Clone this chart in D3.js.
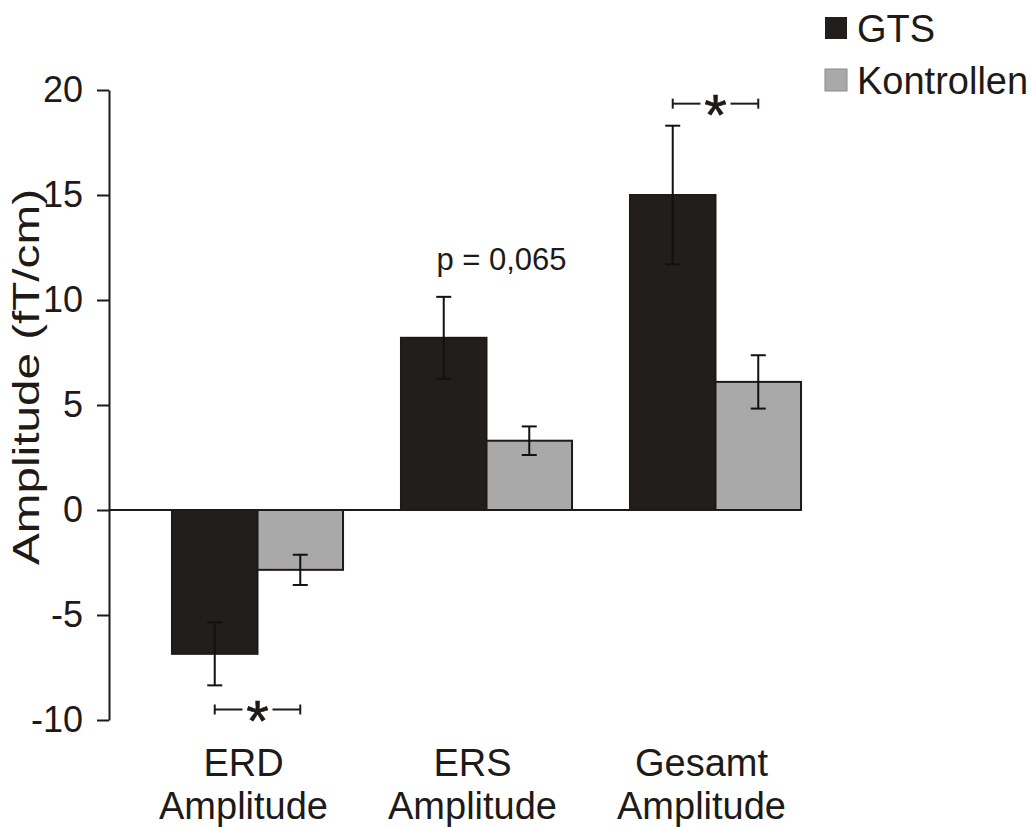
<!DOCTYPE html>
<html>
<head>
<meta charset="utf-8">
<script src="https://cdn.jsdelivr.net/npm/d3@7"></script>
<style>
  html, body { margin: 0; padding: 0; background: #fff; }
  svg text { font-family: "Liberation Sans", Arial, Helvetica, sans-serif; fill: #1e1a17; }
</style>
</head>
<body>
<svg id="chart" width="1033" height="827"></svg>
<script>
// Amplitude means with standard errors per measure and group
const categories = ["ERD Amplitude", "ERS Amplitude", "Gesamt Amplitude"];
const labelLine1 = ["ERD", "ERS", "Gesamt"];
const labelLine2 = ["Amplitude", "Amplitude", "Amplitude"];
const groups = ["GTS", "Kontrollen"];
const gtsValues = [-6.85, 8.2, 15.0];
const gtsErrors = [1.5, 1.95, 3.3];
const kontrollenValues = [-2.85, 3.3, 6.1];
const kontrollenErrors = [0.72, 0.68, 1.27];
const yTicks = [-10, -5, 0, 5, 10, 15, 20];
const yLabel = "Amplitude (fT/cm)";
// significance annotations: category index, height and label
const significance = [
  { cat: 0, value: -9.5, text: "*" },
  { cat: 2, value: 19.35, text: "*" }
];
const pNote = { cat: 1, value: 11.45, text: "p = 0,065" };

const colors = { GTS: "#221e1b", Kontrollen: "#a9a9a9" };
const ink = "#1e1a17";

const svg = d3.select("#chart");

const y = d3.scaleLinear().domain([-10, 20]).range([720, 90]);
const x0 = d3.scaleBand().domain(categories).range([109, 864])
  .paddingInner(0.253).paddingOuter(0.275);
const x1 = d3.scaleBand().domain(groups).range([0, x0.bandwidth()]);

const rows = categories.map((c, i) => ({
  cat: c,
  bars: [
    { g: "GTS", v: gtsValues[i], e: gtsErrors[i] },
    { g: "Kontrollen", v: kontrollenValues[i], e: kontrollenErrors[i] }
  ]
}));

// bars
const gCat = svg.append("g").selectAll("g").data(rows).join("g")
  .attr("transform", d => `translate(${x0(d.cat)},0)`);

gCat.selectAll("rect").data(d => d.bars).join("rect")
  .attr("x", d => x1(d.g))
  .attr("width", x1.bandwidth())
  .attr("y", d => y(Math.max(0, d.v)))
  .attr("height", d => Math.abs(y(d.v) - y(0)))
  .attr("fill", d => colors[d.g])
  .attr("stroke", ink)
  .attr("stroke-width", 2);

// error bars
const capW = 15;
const eb = gCat.selectAll("g.err").data(d => d.bars).join("g").attr("class", "err")
  .attr("stroke", "#111").attr("stroke-width", 2);
eb.append("line")
  .attr("x1", d => x1(d.g) + x1.bandwidth() / 2)
  .attr("x2", d => x1(d.g) + x1.bandwidth() / 2)
  .attr("y1", d => y(d.v - d.e)).attr("y2", d => y(d.v + d.e));
[-1, 1].forEach(s => {
  eb.append("line")
    .attr("x1", d => x1(d.g) + x1.bandwidth() / 2 - capW / 2)
    .attr("x2", d => x1(d.g) + x1.bandwidth() / 2 + capW / 2)
    .attr("y1", d => y(d.v + s * d.e)).attr("y2", d => y(d.v + s * d.e));
});

// zero baseline
const lastCat = categories[categories.length - 1];
svg.append("line")
  .attr("x1", 109).attr("x2", x0(lastCat) + x0.bandwidth() + 1)
  .attr("y1", y(0)).attr("y2", y(0))
  .attr("stroke", ink).attr("stroke-width", 2);

// y axis
const yAxis = svg.append("g").attr("transform", "translate(109,0)")
  .call(d3.axisLeft(y).tickValues(yTicks).tickSize(12).tickSizeOuter(0)
    .tickPadding(14).tickFormat(d => String(d)));
yAxis.select(".domain").attr("stroke", ink).attr("stroke-width", 2);
yAxis.selectAll(".tick line").attr("stroke", ink).attr("stroke-width", 2);
yAxis.selectAll(".tick text")
  .attr("font-size", 36)
  .attr("font-family", "'Liberation Sans', Arial, sans-serif")
  .attr("fill", ink);

svg.append("text")
  .attr("transform", `translate(39,${(y(20) + y(-10)) / 2 - 28}) rotate(-90)`)
  .attr("text-anchor", "middle")
  .attr("font-size", 36)
  .attr("textLength", 376)
  .attr("lengthAdjust", "spacingAndGlyphs")
  .text(yLabel);

// category labels, two lines each
const xl = svg.append("g").selectAll("g").data(categories).join("g")
  .attr("transform", d => `translate(${x0(d) + x0.bandwidth() / 2 - 14},0)`);
xl.append("text").attr("text-anchor", "middle").attr("font-size", 38)
  .attr("y", 776).text((d, i) => labelLine1[i]);
xl.append("text").attr("text-anchor", "middle").attr("font-size", 38)
  .attr("y", 819).text((d, i) => labelLine2[i]);

// significance brackets between the two bar centres
significance.forEach(s => {
  const c = categories[s.cat];
  const xa = x0(c) + x1("GTS") + x1.bandwidth() / 2;
  const xb = x0(c) + x1("Kontrollen") + x1.bandwidth() / 2;
  const xm = (xa + xb) / 2;
  const yy = y(s.value);
  const g = svg.append("g").attr("stroke", ink).attr("stroke-width", 2);
  g.append("line").attr("x1", xa).attr("x2", xm - 15).attr("y1", yy).attr("y2", yy);
  g.append("line").attr("x1", xm + 15).attr("x2", xb).attr("y1", yy).attr("y2", yy);
  g.append("line").attr("x1", xa).attr("x2", xa).attr("y1", yy - 5).attr("y2", yy + 5);
  g.append("line").attr("x1", xb).attr("x2", xb).attr("y1", yy - 5).attr("y2", yy + 5);
  svg.append("text").attr("x", xm).attr("y", yy + 31)
    .attr("text-anchor", "middle").attr("font-size", 58)
    .attr("stroke", ink).attr("stroke-width", 0.6)
    .text(s.text);
});

// p-value note above ERS
svg.append("text")
  .attr("x", x0(categories[pNote.cat]) + x0.bandwidth() / 2 + 15)
  .attr("y", y(pNote.value))
  .attr("text-anchor", "middle")
  .attr("font-size", 31)
  .text(pNote.text);

// legend
const legend = svg.append("g").attr("transform", "translate(825,17)");
groups.forEach((gname, i) => {
  legend.append("rect").attr("x", 0).attr("y", i * 52).attr("width", 22).attr("height", 22)
    .attr("fill", colors[gname]).attr("stroke", gname === "GTS" ? "none" : "#8a8a8a").attr("stroke-width", 1);
  legend.append("text").attr("x", 32).attr("y", i * 52 + 25).attr("font-size", 38).text(gname);
});
</script>
</body>
</html>
